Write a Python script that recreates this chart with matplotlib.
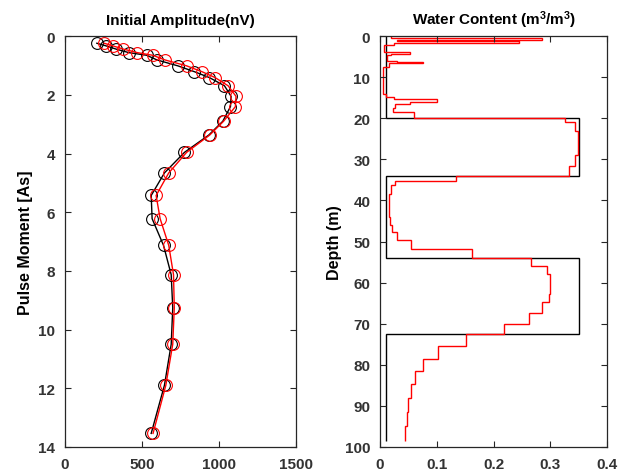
import numpy as np
import matplotlib
matplotlib.use('Agg')
from matplotlib import pyplot as plt

plt.rcParams['font.family'] = ['Liberation Sans', 'DejaVu Sans']
plt.rcParams['font.weight'] = 'bold'
plt.rcParams['mathtext.fontset'] = 'custom'
plt.rcParams['mathtext.rm'] = 'Liberation Sans:bold'
plt.rcParams['mathtext.default'] = 'rm'

# Left panel: initial amplitude vs pulse moment
pulse_moment = [0.24, 0.33, 0.44, 0.56, 0.65, 0.81, 1.01, 1.21, 1.41, 1.69, 2.05, 2.40,
                2.90, 3.37, 3.96, 4.66, 5.43, 6.22, 7.13, 8.13, 9.26, 10.5, 11.9, 13.54]
amp_observed = [207, 267, 332, 415, 531, 598, 733, 841, 938, 1036, 1079, 1075,
                1025, 934, 776, 646, 560, 566, 640, 690, 700, 690, 646, 560]
amp_model = [255, 311, 380, 470, 570, 650, 790, 890, 975, 1060, 1111, 1107,
             1030, 940, 790, 674, 592, 618, 674, 705, 710, 700, 655, 572]

# Right panel: water content profiles (layer edges in m, values in m3/m3)
true_edges = [0, 20, 34, 54, 72.5, 98.5]
true_wc = [0.01, 0.35, 0.01, 0.35, 0.01]

inv_edges = [0, 0.4, 0.9, 1.2, 1.6, 2.2, 3.8, 4.4, 4.6, 6.0, 6.2, 6.6, 7.6, 14.1, 14.9,
             15.3, 15.9, 16.5, 17.4, 18.4, 20, 21, 23, 29, 31.6, 34, 35.3, 36.3, 38.3,
             44, 46, 47.7, 49.7, 51.8, 54, 56, 58, 62.8, 64.8, 67.5, 70, 72.5, 75.5,
             78.6, 81.5, 84.7, 88, 91.4, 95, 98.5]
inv_wc = [0.02, 0.285, 0.03, 0.245, 0.025, 0.007, 0.052, 0.02, 0.013, 0.03, 0.075, 0.015,
          0.006, 0.01, 0.025, 0.1, 0.052, 0.027, 0.022, 0.06, 0.325, 0.343, 0.348, 0.343,
          0.332, 0.134, 0.026, 0.019, 0.015, 0.017, 0.021, 0.029, 0.055, 0.162, 0.266,
          0.294, 0.3, 0.297, 0.285, 0.263, 0.218, 0.151, 0.102, 0.076, 0.062, 0.054,
          0.049, 0.047, 0.044]

spine_col = '#262626'

fig = plt.figure(figsize=(6.19, 4.77), dpi=100)
ax1 = fig.add_axes([0.105, 0.061, 0.373, 0.861])
ax2 = fig.add_axes([0.614, 0.061, 0.367, 0.861])

# left
ax1.plot(amp_observed, pulse_moment, 'k-o', lw=1, ms=8.5, mfc='none', mew=0.8)
ax1.plot(amp_model, pulse_moment, 'r-o', lw=1, ms=8.5, mfc='none', mew=0.8)
ax1.set_xlim(0, 1500)
ax1.set_ylim(14, 0)
ax1.set_xticks([0, 500, 1000, 1500])
ax1.set_yticks(np.arange(0, 15, 2))
ax1.set_title('Initial Amplitude(nV)', fontsize=11, fontweight='bold', pad=9)
ax1.set_ylabel('Pulse Moment [As]', fontsize=11.5, fontweight='bold', labelpad=4)

# right
ax2.stairs(true_wc, true_edges, orientation='horizontal', baseline=None, color='k', lw=1)
ax2.stairs(inv_wc, inv_edges, orientation='horizontal', baseline=None, color='r', lw=1)
ax2.set_xlim(0, 0.4)
ax2.set_ylim(100, 0)
ax2.set_xticks([0, 0.1, 0.2, 0.3, 0.4])
ax2.set_xticklabels(['0', '0.1', '0.2', '0.3', '0.4'])
ax2.set_yticks(np.arange(0, 101, 10))
ax2.set_title('Water Content (m$^{3}$/m$^{3}$)', fontsize=11, fontweight='bold', pad=9)
ax2.set_ylabel('Depth (m)', fontsize=11.5, fontweight='bold', labelpad=2)

for ax in (ax1, ax2):
    ax.tick_params(direction='in', top=True, right=True, length=4, width=0.8, pad=7,
                   labelsize=11, colors=spine_col, labelcolor='#333333')
    for lab in ax.get_xticklabels() + ax.get_yticklabels():
        lab.set_fontweight('bold')
    for s in ax.spines.values():
        s.set_color(spine_col)
        s.set_linewidth(0.9)

plt.savefig('out.png', dpi=100, facecolor='white')
plt.close()
